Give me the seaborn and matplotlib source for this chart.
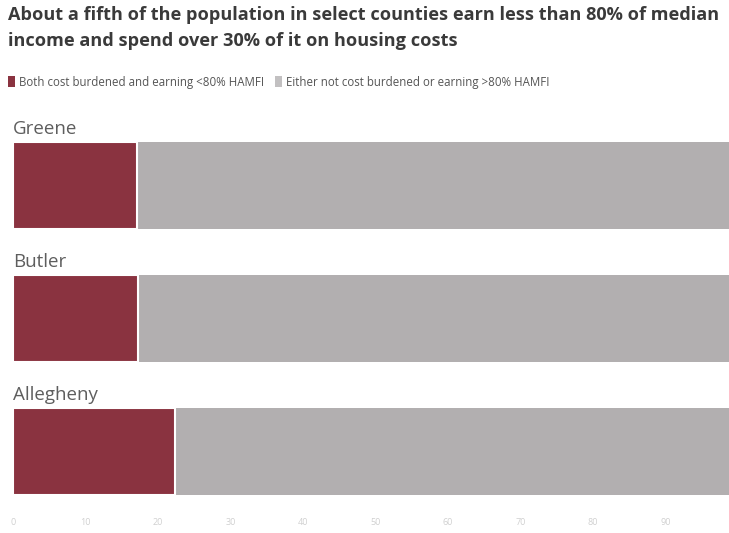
import matplotlib
matplotlib.use("Agg")
import matplotlib.pyplot as plt
import seaborn as sns
import pandas as pd
from matplotlib.patches import Patch

counties = ["Greene", "Butler", "Allegheny"]
burdened_pct = [17.1, 17.2, 22.4]
total_pct = [100, 100, 100]
tick_values = [0, 10, 20, 30, 40, 50, 60, 70, 80, 90]
tick_labels = ["0", "10", "20", "30", "40", "50", "60", "70", "80", "90"]

title = ("About a fifth of the population in select counties earn less than 80% of median\n"
         "income and spend over 30% of it on housing costs")
legend_labels = ["Both cost burdened and earning <80% HAMFI",
                 "Either not cost burdened or earning >80% HAMFI"]

RED = "#8a3340"
GRAY = "#b2afb0"

sns.set_style("white")
plt.rcParams["font.family"] = ["Open Sans", "DejaVu Sans"]

df = pd.DataFrame({"county": counties, "burdened": burdened_pct, "total": total_pct})

W, H = 729, 533
fig = plt.figure(figsize=(W / 100, H / 100), dpi=100)
fig.patch.set_facecolor("white")
ax = fig.add_axes([13 / W, 15 / H, 725 / W, 399 / H])

sns.barplot(data=df, x="total", y="county", orient="h", color=GRAY, width=0.654,
            edgecolor="white", linewidth=0, saturation=1, ax=ax)
sns.barplot(data=df, x="burdened", y="county", orient="h", color=RED, width=0.654,
            edgecolor="white", linewidth=1.5, saturation=1, ax=ax)

ax.set_xlim(0, 100)
ax.set_ylim(2.5, -0.5)
ax.set_xlabel("")
ax.set_ylabel("")
ax.set_yticks([])
ax.set_xticks(tick_values)
ax.set_xticklabels(tick_labels, color="#d0d0d0", fontsize=6.5)
ax.tick_params(axis="x", length=0, pad=0)
for s in ax.spines.values():
    s.set_visible(False)

for i, name in enumerate(counties):
    ax.text(0.0, i - 0.327 - 0.03, name, ha="left", va="bottom",
            fontsize=13.5, color="#5e5e5e")

fig.text(8 / W, 1 - 6 / H, title, ha="left", va="top", fontsize=13.1,
         fontweight="bold", color="#3a3a3a", linespacing=1.55)

handles = [Patch(facecolor=RED, edgecolor="none"), Patch(facecolor="#c2c0c1", edgecolor="none")]
fig.legend(handles, legend_labels, loc="upper left", bbox_to_anchor=(3 / W, 1 - 71 / H),
           ncol=2, frameon=False, fontsize=8.3, handlelength=0.6, handleheight=1.1,
           handletextpad=0.35, columnspacing=1.0, labelcolor="#555555", borderaxespad=0)

fig.savefig("out.png", dpi=100)
